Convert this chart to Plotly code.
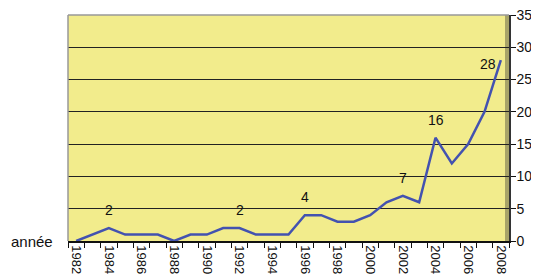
import plotly.graph_objects as go

years = list(range(1982, 2009))
counts = [0, 1, 2, 1, 1, 1, 0, 1, 1, 2, 2, 1, 1, 1, 4, 4, 3, 3, 4, 6, 7, 6, 16, 12, 15, 20, 28]
labeled_years = [1984, 1992, 1996, 2002, 2004, 2008]
y_ticks = [0, 5, 10, 15, 20, 25, 30, 35]
x_ticks = list(range(1982, 2009, 2))

FONT = "Liberation Sans, Arial"

fig = go.Figure()
fig.add_trace(go.Scatter(x=years, y=counts, mode="lines",
                         line=dict(color="#4352B0", width=2.5), showlegend=False))

for yr in labeled_years:
    v = counts[years.index(yr)]
    if yr == 2008:
        fig.add_annotation(x=yr, y=v, text=str(v), showarrow=False, xanchor="right",
                           yanchor="middle", xshift=-3, yshift=-4,
                           font=dict(family=FONT, size=14, color="#111"))
    else:
        fig.add_annotation(x=yr, y=v, text=str(v), showarrow=False, yanchor="bottom",
                           yshift=8, font=dict(family=FONT, size=14, color="#111"))

fig.add_annotation(xref="paper", yref="y", x=0, y=0, text="année", showarrow=False,
                   xanchor="right", xshift=-13, font=dict(family=FONT, size=15, color="#111"))

# darker right wall strip
fig.add_shape(type="rect", xref="paper", yref="paper", x0=1 - 4 / 441, x1=1, y0=0, y1=1,
              fillcolor="#A8A468", line=dict(width=0), layer="below")

# page body has an 8px margin: size the figure to fit the 539x280 window
fig.update_layout(
    width=531, height=272,
    margin=dict(l=60, r=30, t=7, b=39),
    plot_bgcolor="#F2EC8C", paper_bgcolor="white",
    font=dict(family=FONT, size=12, color="#111"),
    xaxis=dict(range=[1981.5, 2008.5], tickmode="array", tickvals=x_ticks,
               ticktext=[str(t) for t in x_ticks], tickangle=90, ticks="",
               showgrid=False, zeroline=False, showline=True, linecolor="#111", linewidth=1.5,
               mirror=False, tickfont=dict(size=13), automargin=False,
               ticklabeloverflow="allow",
               minor=dict(ticks="outside", tickmode="array",
                          tickvals=[y + 0.5 for y in range(1981, 2009)],
                          ticklen=5, tickcolor="#111", showgrid=False)),
    yaxis=dict(range=[0, 35], tickvals=y_ticks, side="right", ticks="outside", ticklen=5,
               tickcolor="#111", showline=True, linecolor="#333", linewidth=1.5,
               showgrid=True, gridcolor="#222", gridwidth=1, zeroline=False,
               tickfont=dict(size=14), automargin=False, ticklabeloverflow="allow",
               ticklabelstandoff=-2),
)
# light gray top & left borders
fig.add_shape(type="line", xref="paper", yref="paper", x0=0, x1=1, y0=1, y1=1,
              line=dict(color="#999", width=1.5))
fig.add_shape(type="line", xref="paper", yref="paper", x0=0, x1=0, y0=0, y1=1,
              line=dict(color="#999", width=1.5))

fig.write_html("out.html")
